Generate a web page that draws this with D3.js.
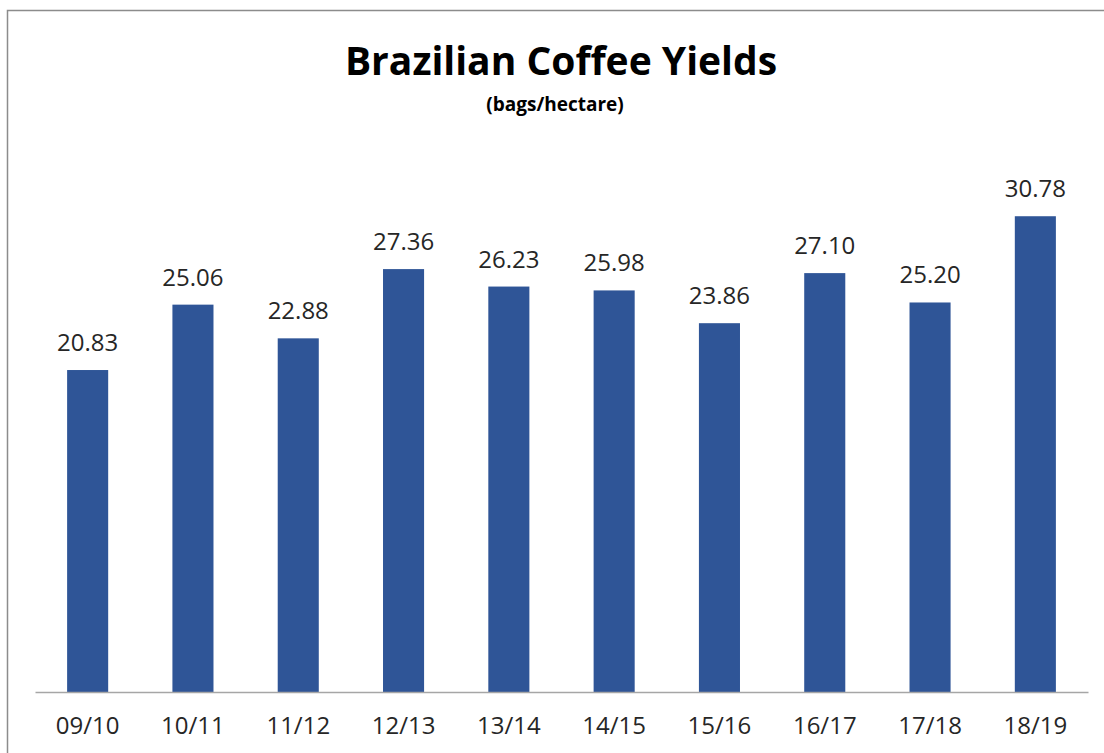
<!DOCTYPE html>
<html>
<head>
<meta charset="utf-8">
<script src="https://cdn.jsdelivr.net/npm/d3@7"></script>
<style>
  html, body { margin: 0; padding: 0; background: #fff; }
  svg { display: block; }
</style>
</head>
<body>
<div id="chart"></div>
<script>
const seasons = ['09/10', '10/11', '11/12', '12/13', '13/14', '14/15', '15/16', '16/17', '17/18', '18/19']
const yields = [20.83, 25.06, 22.88, 27.36, 26.23, 25.98, 23.86, 27.10, 25.20, 30.78]
const yDomain = [0, 35]

const width = 1104
const height = 753
const margins = { top: 151, right: 16, bottom: 61, left: 35 }
const barColor = '#2F5597'
const font = '"Open Sans", "Noto Sans", sans-serif'

let svg = d3.select('#chart').append('svg')
  .attr('width', width)
  .attr('height', height)

// chart frame, runs off the right and bottom of the picture
svg.append('rect')
  .attr('x', 7.5)
  .attr('y', 10.5)
  .attr('width', 1200)
  .attr('height', 900)
  .style('fill', 'none')
  .style('stroke', '#8c8c8c')
  .style('stroke-width', 1.5)

let xScale = d3.scaleBand()
  .domain(seasons)
  .range([margins.left, width - margins.right])
  .paddingInner(0.61)
  .paddingOuter(0.305)

let yScale = d3.scaleLinear()
  .domain(yDomain)
  .range([height - margins.bottom, margins.top])

// title
svg.append('text')
  .attr('x', 561)
  .attr('y', 75)
  .attr('text-anchor', 'middle')
  .style('font-family', font)
  .style('font-weight', 'bold')
  .style('font-size', '39px')
  .style('fill', '#000')
  .text('Brazilian Coffee Yields')

svg.append('text')
  .attr('x', 555)
  .attr('y', 111)
  .attr('text-anchor', 'middle')
  .style('font-family', font)
  .style('font-weight', 'bold')
  .style('font-size', '19px')
  .style('fill', '#000')
  .text('(bags/hectare)')

// bars
svg.append('g')
  .selectAll('rect')
  .data(yields)
  .join('rect')
  .attr('x', (d, i) => xScale(seasons[i]))
  .attr('y', d => yScale(d))
  .attr('width', xScale.bandwidth())
  .attr('height', d => yScale(0) - yScale(d))
  .style('fill', barColor)

// value labels
svg.append('g')
  .selectAll('text')
  .data(yields)
  .join('text')
  .attr('x', (d, i) => xScale(seasons[i]) + xScale.bandwidth() / 2)
  .attr('y', d => yScale(d) - 19)
  .attr('text-anchor', 'middle')
  .style('font-family', font)
  .style('font-size', '24px')
  .style('fill', '#262626')
  .text(d => d.toFixed(2))

// x axis
let xAxis = svg.append('g')
  .attr('transform', `translate(0,${yScale(0)})`)
  .call(d3.axisBottom(xScale).tickSize(0).tickPadding(25))

xAxis.select('.domain')
  .attr('stroke', '#a6a6a6')
  .attr('stroke-width', 1.5)

xAxis.selectAll('text')
  .style('font-family', font)
  .style('font-size', '24px')
  .style('fill', '#262626')
</script>
</body>
</html>
